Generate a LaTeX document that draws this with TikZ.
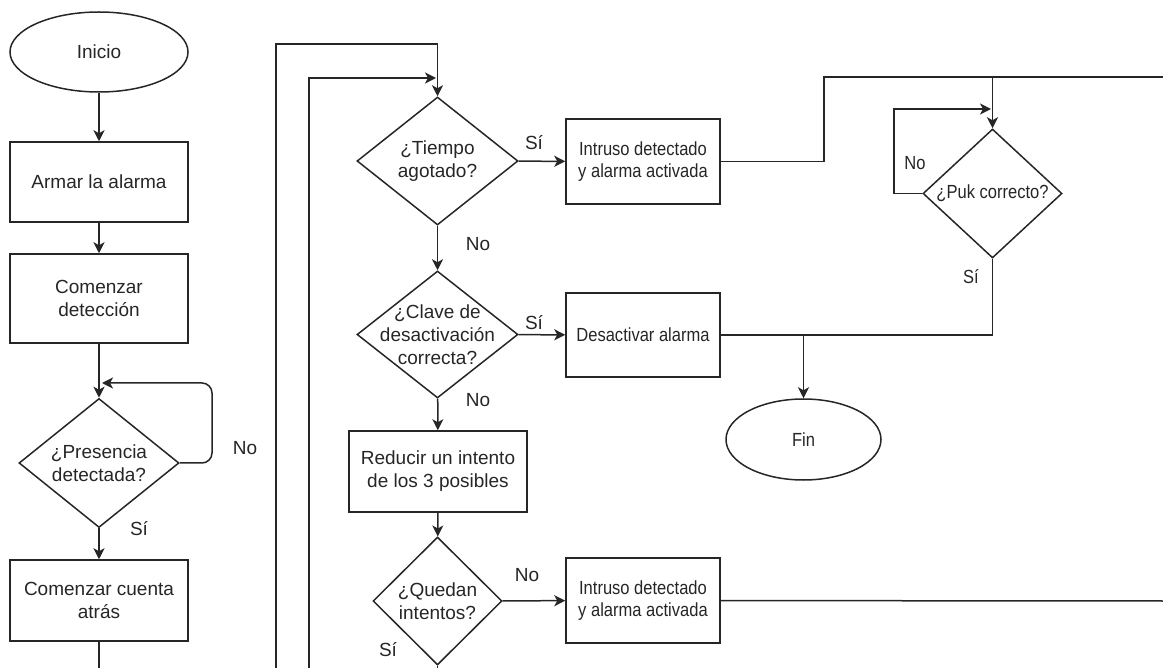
\documentclass[tikz,border=0pt]{standalone}
\usepackage{fontspec}
\setmainfont{Liberation Sans}
\newfontfamily\narrowsans[FakeStretch=0.87]{Liberation Sans}
\usetikzlibrary{shapes.geometric,arrows.meta}
\begin{document}
\begin{tikzpicture}[x=1pt,y=-1pt,
  every node/.style={font=\fontsize{19}{23}\selectfont, text=black!85},
  smallfont/.style={font=\narrowsans\fontsize{19}{22.5}\selectfont},
  line/.style={draw=black!85, line width=1.5pt},
  arr/.style={line, -{Stealth[length=11pt,width=11pt,inset=3pt]}},
  procbox/.style={line, rectangle, inner sep=0pt, align=center},
  termin/.style={line, ellipse, inner sep=0pt},
  decis/.style={line, diamond, inner sep=0pt, aspect=1},
  lab/.style={inner sep=0pt}]
\useasboundingbox (0,0) rectangle (1163,668);
% nodes
\node[termin, minimum width=178pt, minimum height=80pt] (inicio) at (99,52) {Inicio};
\node[procbox, minimum width=178pt, minimum height=80pt] (armar) at (99,182) {Armar la alarma};
\node[procbox, minimum width=178pt, minimum height=89pt] (comdet) at (99,298.5) {Comenzar\\detección};
\node[decis, minimum width=160pt, minimum height=129pt,
  label={[lab,align=center]center:¿Presencia\\detectada?}] (pres) at (99,463) {};
\node[procbox, minimum width=178pt, minimum height=81pt] (cuenta) at (99,600.5) {Comenzar cuenta\\atrás};
\node[decis, minimum width=161pt, minimum height=128pt,
  label={[lab,align=center]center:¿Tiempo\\agotado?}] (tiempo) at (437.5,161) {};
\node[procbox, smallfont, minimum width=154pt, minimum height=85pt] (intr1) at (643,161.5) {Intruso detectado\\y alarma activada};
\node[decis, minimum width=161pt, minimum height=127pt,
  label={[lab,align=center]center:¿Clave de\\desactivación\\correcta?}] (clave) at (437.5,334.5) {};
\node[procbox, smallfont, minimum width=154pt, minimum height=84pt] (desact) at (643,335) {Desactivar alarma};
\node[procbox, minimum width=178pt, minimum height=81pt] (reducir) at (438,471.5) {Reducir un intento\\de los 3 posibles};
\node[decis, minimum width=129pt, minimum height=128pt,
  label={[lab,align=center]center:¿Quedan\\intentos?}] (quedan) at (437.5,601) {};
\node[procbox, smallfont, minimum width=154pt, minimum height=85pt] (intr2) at (643,600.5) {Intruso detectado\\y alarma activada};
\node[decis, minimum width=139pt, minimum height=129pt,
  label={[lab,smallfont,align=center]center:¿Puk correcto?}] (puk) at (992.5,193.5) {};
\node[termin, smallfont, minimum width=155pt, minimum height=81pt] (fin) at (803.5,439.5) {Fin};
% labels
\node[lab] (lno1) at (245,448) {No};
\node[lab] (lsi1) at (139,529) {Sí};
\node[lab] (lsi2) at (534,143) {Sí};
\node[lab] (lno2) at (478,244) {No};
\node[lab] (lsi3) at (534,323) {Sí};
\node[lab] (lno3) at (478,400) {No};
\node[lab] (lno4) at (527,575) {No};
\node[lab] (lsi4) at (388,650) {Sí};
\node[lab, smallfont] (lno5) at (915,163) {No};
\node[lab, smallfont] (lsi5) at (971,277) {Sí};
% free-end coordinates
\coordinate (loopx) at (212,463);
\coordinate (loopend) at (102,383);
\coordinate (cuentaend) at (99,668);
\coordinate (o1a) at (276,668);
\coordinate (o1b) at (276,44);
\coordinate (o2a) at (309,668);
\coordinate (o2b) at (309,78);
\coordinate (o2c) at (436,78);
\coordinate (quedanend) at (437.5,668);
\coordinate (intr2end) at (1163,601);
\coordinate (r1) at (824,161.5);
\coordinate (r2) at (824,77);
\coordinate (r3) at (1163,77);
\coordinate (pukin) at (992.5,77);
\coordinate (pl1) at (894,193.5);
\coordinate (pl2) at (894,109);
\coordinate (pl3) at (991,109);
\coordinate (pd) at (992.5,335);
\coordinate (fj) at (803.5,335);
% connectors
\draw[arr] (inicio) -- (armar);
\draw[arr] (armar) -- (comdet);
\draw[arr] (comdet) -- (pres);
\draw[arr, rounded corners=10pt] (pres.east) -- (loopx) |- (loopend);
\draw[arr] (pres) -- (cuenta);
\draw[line] (cuenta) -- (cuentaend);
\draw[arr] (o1a) -- (o1b) -| (tiempo.north);
\draw[arr] (o2a) -- (o2b) -- (o2c);
\draw[arr] (tiempo) -- (intr1);
\draw[arr] (tiempo) -- (clave);
\draw[arr] (clave) -- (desact);
\draw[arr] (clave) -- (reducir);
\draw[arr] (reducir) -- (quedan);
\draw[arr] (quedan) -- (intr2);
\draw[line] (quedan.south) -- (quedanend);
\draw[line] (intr2) -- (intr2end);
\draw[line] (intr1.east) -- (r1) -- (r2) -- (r3);
\draw[arr] (pukin) -- (puk.north);
\draw[arr] (puk.west) -- (pl1) -- (pl2) -- (pl3);
\draw[line] (puk.south) -- (pd) -- (desact.east);
\draw[arr] (fj) -- (fin.north);
\end{tikzpicture}
\end{document}
